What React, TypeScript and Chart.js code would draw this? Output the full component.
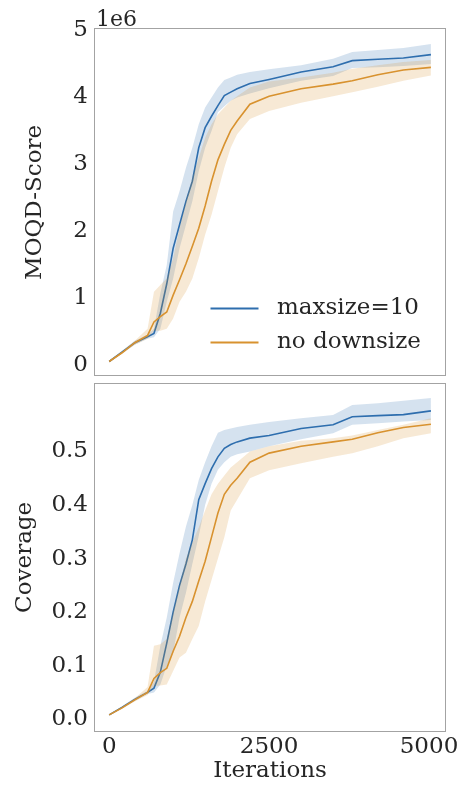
import React, { useEffect, useRef } from "react";
import { Chart, registerables } from "chart.js";

Chart.register(...registerables);

// ---------- data ----------
const iterations = [0, 200, 400, 600, 700, 800, 900, 1000, 1100, 1200, 1300, 1400, 1500, 1600, 1700, 1800, 1900, 2000, 2200, 2500, 3000, 3500, 3800, 4200, 4600, 5030];

const seriesLabels = ["maxsize=10", "no downsize"];

// MOQD-Score (x 1e6)
const scoreMaxsizeMean = [0.06, 0.2, 0.34, 0.43, 0.48, 0.78, 1.22, 1.75, 2.1, 2.45, 2.75, 3.25, 3.55, 3.72, 3.88, 4.03, 4.08, 4.13, 4.21, 4.27, 4.38, 4.46, 4.55, 4.57, 4.59, 4.64];
const scoreMaxsizeUpper = [0.07, 0.22, 0.37, 0.46, 0.55, 1.08, 1.5, 2.3, 2.6, 2.95, 3.25, 3.6, 3.85, 4.0, 4.15, 4.26, 4.3, 4.34, 4.38, 4.42, 4.48, 4.58, 4.68, 4.71, 4.74, 4.8];
const scoreMaxsizeLower = [0.05, 0.18, 0.31, 0.4, 0.42, 0.55, 0.95, 1.3, 1.75, 2.1, 2.45, 2.9, 3.25, 3.5, 3.78, 3.87, 3.95, 4.0, 4.06, 4.14, 4.25, 4.32, 4.44, 4.45, 4.47, 4.5];
const scoreNoDownMean = [0.06, 0.19, 0.34, 0.45, 0.65, 0.73, 0.8, 1.05, 1.28, 1.52, 1.78, 2.05, 2.38, 2.75, 3.07, 3.3, 3.51, 3.65, 3.9, 4.02, 4.13, 4.2, 4.25, 4.34, 4.41, 4.45];
const scoreNoDownUpper = [0.07, 0.21, 0.37, 0.55, 1.1, 1.2, 1.3, 1.6, 2.05, 2.45, 2.8, 3.1, 3.4, 3.6, 3.75, 3.85, 3.95, 4.02, 4.15, 4.24, 4.3, 4.37, 4.43, 4.48, 4.53, 4.56];
const scoreNoDownLower = [0.05, 0.17, 0.31, 0.4, 0.52, 0.52, 0.55, 0.7, 0.95, 1.1, 1.3, 1.6, 1.95, 2.25, 2.6, 2.95, 3.25, 3.45, 3.68, 3.8, 3.92, 4.02, 4.08, 4.16, 4.25, 4.33];

// Coverage
const covMaxsizeMean = [0.008, 0.022, 0.037, 0.05, 0.058, 0.088, 0.142, 0.2, 0.25, 0.29, 0.335, 0.41, 0.44, 0.468, 0.49, 0.506, 0.513, 0.518, 0.525, 0.53, 0.543, 0.55, 0.565, 0.567, 0.569, 0.576];
const covMaxsizeUpper = [0.009, 0.024, 0.04, 0.053, 0.07, 0.137, 0.19, 0.255, 0.31, 0.36, 0.4, 0.447, 0.48, 0.51, 0.535, 0.54, 0.543, 0.546, 0.55, 0.555, 0.562, 0.568, 0.587, 0.59, 0.595, 0.6];
const covMaxsizeLower = [0.007, 0.02, 0.034, 0.047, 0.05, 0.065, 0.1, 0.124, 0.19, 0.236, 0.29, 0.342, 0.4, 0.44, 0.466, 0.48, 0.49, 0.495, 0.5, 0.51, 0.523, 0.534, 0.55, 0.553, 0.556, 0.559];
const covNoDownMean = [0.008, 0.021, 0.036, 0.05, 0.076, 0.087, 0.095, 0.127, 0.155, 0.19, 0.22, 0.258, 0.295, 0.34, 0.385, 0.42, 0.437, 0.45, 0.48, 0.497, 0.51, 0.518, 0.523, 0.535, 0.545, 0.551];
const covNoDownUpper = [0.009, 0.023, 0.039, 0.06, 0.137, 0.14, 0.15, 0.2, 0.25, 0.3, 0.33, 0.358, 0.39, 0.42, 0.44, 0.455, 0.47, 0.48, 0.5, 0.51, 0.52, 0.525, 0.53, 0.54, 0.55, 0.562];
const covNoDownLower = [0.007, 0.019, 0.033, 0.045, 0.062, 0.063, 0.065, 0.09, 0.115, 0.124, 0.15, 0.174, 0.22, 0.26, 0.3, 0.34, 0.39, 0.41, 0.45, 0.465, 0.478, 0.49, 0.497, 0.51, 0.525, 0.534];

const xTicks = [0, 2500, 5000];
const scoreTicks = [0, 1, 2, 3, 4, 5];
const coverageTicks = [0, 0.1, 0.2, 0.3, 0.4, 0.5];

// ---------- styles ----------
const FONT_FAMILY = "'DejaVu Serif', serif";
const TEXT = "#262626";
const BLUE = "#2e6eae";
const ORANGE = "#d8922f";
const BLUE_FILL = "rgba(46,110,174,0.2)";
const ORANGE_FILL = "rgba(216,146,47,0.2)";
const FRAME = "#a3a3a3";
const X_MIN = -237.6;
const X_MAX = 5265.8;

const pts = (arr: number[]) => iterations.map((x, i) => ({ x, y: arr[i] }));

function bandDatasets(lo: number[], hi: number[], mean: number[], color: string, fill: string, label: string, orderBase: number) {
  return [
    { label: label + " lower", data: pts(lo), borderColor: "transparent", borderWidth: 0, pointRadius: 0, fill: false, order: orderBase + 2 },
    { label: label + " upper", data: pts(hi), borderColor: "transparent", borderWidth: 0, pointRadius: 0, fill: "-1", backgroundColor: fill, order: orderBase + 1 },
    { label, data: pts(mean), borderColor: color, borderWidth: 1.6, pointRadius: 0, fill: false, order: orderBase },
  ];
}

const framePlugin = {
  id: "frame",
  afterDraw(chart: any) {
    const { ctx, chartArea: a } = chart;
    ctx.save();
    ctx.strokeStyle = FRAME;
    ctx.lineWidth = 1;
    ctx.strokeRect(Math.round(a.left) + 0.5, Math.round(a.top) + 0.5, Math.round(a.right - a.left) - 1, Math.round(a.bottom - a.top) - 1);
    ctx.restore();
  },
};

const topExtrasPlugin = {
  id: "topExtras",
  afterDraw(chart: any) {
    const { ctx } = chart;
    ctx.save();
    // offset text
    ctx.fillStyle = TEXT;
    ctx.font = `22px ${FONT_FAMILY}`;
    ctx.textAlign = "left";
    ctx.textBaseline = "alphabetic";
    ctx.fillText("1e6", 96, 26);
    // legend
    const rows = [
      { label: seriesLabels[0], color: BLUE, y: 308.5 },
      { label: seriesLabels[1], color: ORANGE, y: 342.5 },
    ];
    ctx.font = `23px ${FONT_FAMILY}`;
    ctx.textBaseline = "middle";
    for (const r of rows) {
      ctx.strokeStyle = r.color;
      ctx.lineWidth = 2;
      ctx.beginPath();
      ctx.moveTo(210.5, r.y);
      ctx.lineTo(258.5, r.y);
      ctx.stroke();
      ctx.fillStyle = TEXT;
      ctx.fillText(r.label, 277, r.y);
    }
    ctx.restore();
  },
};

const tickFont = { family: FONT_FAMILY, size: 23 };

const fitY = (s: any) => {
  s.width = 94;
  s.paddingTop = 0;
  s.paddingBottom = 0;
};
const fitX = (s: any) => {
  s.height = 54.3;
  s.paddingLeft = 0;
  s.paddingRight = 0;
};

function TopChart() {
  const ref = useRef<HTMLCanvasElement>(null);
  useEffect(() => {
    const chart = new Chart(ref.current!, {
      type: "line",
      data: {
        datasets: [
          ...bandDatasets(scoreMaxsizeLower, scoreMaxsizeUpper, scoreMaxsizeMean, BLUE, BLUE_FILL, seriesLabels[0], 3),
          ...bandDatasets(scoreNoDownLower, scoreNoDownUpper, scoreNoDownMean, ORANGE, ORANGE_FILL, seriesLabels[1], 0),
        ] as any,
      },
      options: {
        animation: false,
        responsive: false,
        devicePixelRatio: 1,
        layout: { padding: { top: 28.3, bottom: 3.5, left: 0, right: 16 } },
        plugins: { legend: { display: false }, tooltip: { enabled: false } },
        elements: { line: { tension: 0 } },
        scales: {
          x: { type: "linear", display: false, min: X_MIN, max: X_MAX },
          y: {
            type: "linear",
            min: -0.164,
            max: 5.033,
            afterBuildTicks: (s: any) => { s.ticks = scoreTicks.map((v) => ({ value: v })); },
            afterFit: fitY,
            grid: { display: false, drawTicks: false },
            border: { display: false },
            ticks: { font: tickFont, color: TEXT, padding: 6, callback: (v: any) => String(v) },
            title: { display: true, text: "MOQD-Score", font: tickFont, color: TEXT, padding: { top: 21.5, bottom: 0 } },
          },
        },
      } as any,
      plugins: [framePlugin, topExtrasPlugin],
    });
    return () => chart.destroy();
  }, []);
  return <canvas ref={ref} width={462} height={380} style={{ position: "absolute", left: 0, top: 0, width: 462, height: 380 }} />;
}

function BottomChart() {
  const ref = useRef<HTMLCanvasElement>(null);
  useEffect(() => {
    const chart = new Chart(ref.current!, {
      type: "line",
      data: {
        datasets: [
          ...bandDatasets(covMaxsizeLower, covMaxsizeUpper, covMaxsizeMean, BLUE, BLUE_FILL, seriesLabels[0], 3),
          ...bandDatasets(covNoDownLower, covNoDownUpper, covNoDownMean, ORANGE, ORANGE_FILL, seriesLabels[1], 0),
        ] as any,
      },
      options: {
        animation: false,
        responsive: false,
        devicePixelRatio: 1,
        layout: { padding: { top: 3, bottom: 0, left: 0, right: 16 } },
        plugins: { legend: { display: false }, tooltip: { enabled: false } },
        elements: { line: { tension: 0 } },
        scales: {
          x: {
            type: "linear",
            min: X_MIN,
            max: X_MAX,
            afterBuildTicks: (s: any) => { s.ticks = xTicks.map((v) => ({ value: v })); },
            afterFit: fitX,
            grid: { display: false, drawTicks: false },
            border: { display: false },
            ticks: { font: tickFont, color: TEXT, padding: 2, maxRotation: 0, autoSkip: false, callback: (v: any) => String(v) },
            title: { display: true, text: "Iterations", font: tickFont, color: TEXT, padding: { top: 0, bottom: 1 } },
          },
          y: {
            type: "linear",
            min: -0.0234,
            max: 0.628,
            afterBuildTicks: (s: any) => { s.ticks = coverageTicks.map((v) => ({ value: v })); },
            afterFit: fitY,
            grid: { display: false, drawTicks: false },
            border: { display: false },
            ticks: { font: tickFont, color: TEXT, padding: 6, callback: (v: any) => Number(v).toFixed(1) },
            title: { display: true, text: "Coverage", font: tickFont, color: TEXT, padding: { top: 11.5, bottom: 0 } },
          },
        },
      } as any,
      plugins: [framePlugin],
    });
    return () => chart.destroy();
  }, []);
  return <canvas ref={ref} width={462} height={406} style={{ position: "absolute", left: 0, top: 380, width: 462, height: 406 }} />;
}

export default function App() {
  return (
    <div style={{ position: "absolute", left: 0, top: 0, width: 462, height: 786, background: "#ffffff", overflow: "hidden" }}>
      <TopChart />
      <BottomChart />
    </div>
  );
}
